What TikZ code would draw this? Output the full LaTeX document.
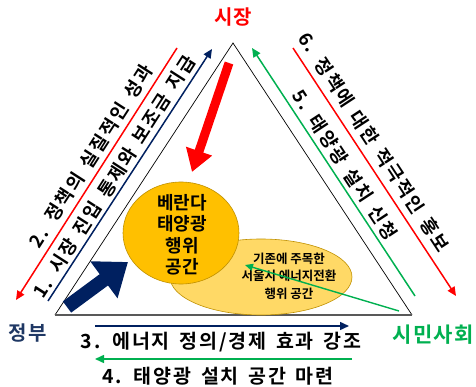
\documentclass[tikz,border=0pt]{standalone}
\usepackage{fontspec}
\setmainfont{Noto Sans CJK KR}[BoldFont={Noto Sans CJK KR Bold}]
\newfontfamily\sidefont{Noto Sans CJK KR}[BoldFont={Noto Sans CJK KR Bold},LetterSpace=10,WordSpace=1.5]
\newfontfamily\bottomfont{Noto Sans CJK KR}[BoldFont={Noto Sans CJK KR Bold},LetterSpace=10,WordSpace=1.5]
\newfontfamily\cornerfont{Noto Sans CJK KR}[BoldFont={Noto Sans CJK KR Bold},LetterSpace=6]
\usetikzlibrary{arrows.meta,shapes.geometric}
\definecolor{myred}{HTML}{FF0000}
\definecolor{mynavy}{HTML}{1F3864}
\definecolor{mydark}{HTML}{002060}
\definecolor{mygreen}{HTML}{00B050}
\definecolor{myorange}{HTML}{FFC000}
\definecolor{mylight}{HTML}{FFD966}
\definecolor{myedge}{HTML}{BF9000}
\begin{document}
\begin{tikzpicture}[x=1pt,y=-1pt,
  sidetext/.style={font=\sidefont\bfseries\fontsize{18.5}{18.5}\selectfont, inner sep=0pt},
  bottomtext/.style={font=\bottomfont\bfseries\fontsize{19.5}{19.5}\selectfont, inner sep=0pt},
  corner/.style={font=\cornerfont\bfseries\fontsize{20}{20}\selectfont, inner sep=0pt},
  thinarrow/.style={line width=1.5pt, -{Triangle[length=9pt,width=8pt]}},
  bigtext/.style={font=\bfseries\fontsize{18}{21.5}\selectfont, align=center, inner sep=0pt},
  smalltext/.style={font=\bfseries\fontsize{12.5}{17.5}\selectfont, align=center, inner sep=0pt}]
\useasboundingbox (0,0) rectangle (476,387);
% triangle
\coordinate (T) at (233,43);
\coordinate (L) at (55,315);
\coordinate (R) at (412,315);
\draw[line width=0.7pt] (L) -- (T) -- (R);
\draw[line width=1.6pt, black!65] (L) -- (R);
% corner labels
\node[corner, text=myred] (mkt) at (233,17) {시장};
\node[corner, text=mynavy] (gov) at (28,333) {정부};
\node[corner, text=mygreen, font=\cornerfont\bfseries\fontsize{21}{21}\selectfont] (civ) at (433,335) {시민사회};
% left side
\coordinate (a2s) at (177,48); \coordinate (a2e) at (16,300);
\coordinate (a1s) at (48,301); \coordinate (a1e) at (212,49);
\draw[thinarrow, myred] (a2s) -- (a2e);
\draw[thinarrow, mydark] (a1s) -- (a1e);
\node[sidetext, rotate=57.3] (t2) at (91,156) {2. 정책의 실질적인 성과};
\node[sidetext, rotate=57.3] (t1) at (114,177) {1. 시장 진입 통제와 보조금 지급};
% right side
\coordinate (a6s) at (293,48); \coordinate (a6e) at (456,296);
\coordinate (a5s) at (415,296); \coordinate (a5e) at (252,48);
\draw[thinarrow, myred] (a6s) -- (a6e);
\draw[thinarrow, mygreen] (a5s) -- (a5e);
\node[sidetext, rotate=-56.7] (t6) at (374,142) {6. 정책에 대한 적극적인 홍보};
\node[sidetext, rotate=-56.7] (t5) at (345,165) {5. 태양광 설치 신청};
% bottom
\coordinate (a3s) at (95,326); \coordinate (a3e) at (349,326);
\coordinate (a4s) at (352,359); \coordinate (a4e) at (95,359);
\draw[thinarrow, mydark] (a3s) -- (a3e);
\draw[thinarrow, mygreen] (a4s) -- (a4e);
\node[bottomtext] (t3) at (221,342) {3. 에너지 정의/경제 효과 강조};
\node[bottomtext] (t4) at (218,376) {4. 태양광 설치 공간 마련};
% ellipses
\node[ellipse, minimum width=182pt, minimum height=76pt, fill=mylight, draw=myedge, line width=0.6pt, inner sep=0pt] (ell) at (261,277) {};
\node[ellipse, minimum width=116pt, minimum height=102pt, fill=myorange, draw=myedge, line width=0.6pt, inner sep=0pt] (circ) at (181,233) {};
\node[bigtext] (ctext) at (182,234.5) {베란다\\태양광\\행위\\공간};
\node[smalltext] (etext) at (289,276) {기존에 주목한\\서울시 에너지전환\\행위 공간};
% green pointer
\coordinate (gs) at (399,311); \coordinate (ge) at (245,265);
\draw[line width=1.4pt, mygreen, -{Triangle[length=8pt,width=7pt]}] (gs) -- (ge);
% big arrows
\coordinate (rs) at (229,63); \coordinate (re) at (192,172);
\draw[line width=9pt, myred, -{Triangle[length=22pt,width=26pt]}] (rs) -- (re);
\coordinate (ns) at (67,307); \coordinate (ne) at (128,262);
\draw[line width=14pt, mydark, -{Triangle[length=30pt,width=44pt]}] (ns) -- (ne);
\end{tikzpicture}
\end{document}
